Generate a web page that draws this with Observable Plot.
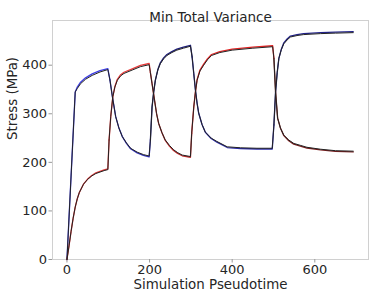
<!DOCTYPE html>
<html><head><meta charset="utf-8">
<script src="https://cdn.jsdelivr.net/npm/d3@7"></script>
<script src="https://cdn.jsdelivr.net/npm/@observablehq/plot@0.6"></script>
<style>body{margin:0;background:#fff;} svg{font-family:"DejaVu Sans",sans-serif;}</style>
</head><body><div id="chart"></div><script>
// Curve A (starts high) – measured (black) and fitted (colored)
const xA = [0,20,25,33,45,61,80,99, 104,110,118,126,134,144,154,170,185,199, 202,206,210,214,220,226,234,242,254,266,282,299, 303,307,311,315,319,327,335,349,363,388,420,460,497, 501,505,509,513,519,525,533,541,557,573,614,650,693];
const yA = [0,345,352,362,371,379,386,391, 370,335,294,270,253,240,229,221,216,213, 246,314,345,369,390,403,413,420,426,431,435,439, 417,383,349,322,301,278,262,250,243,232,230,229,229, 277,345,385,414,432,444,452,458,461,463,465,466,467];
const yAfit = [0,345,355,365,374,382,389,393, 370,335,294,270,253,239,228,219.5,214.5,211.5, 246,314,345,369,391,405,415,422,428,433,437,441, 417,383,349,322,301,278,262,249,241.5,230.5,228.5,227.5,227.5, 277,345,385,414,433,446,454,460,463,465,467,468,469];
// Curve B (starts low)
const xB = [0,5,10,15,20,25,30,40,50,60,70,80,90,99, 102,106,111,116,122,130,138,158,178,199, 202,206,212,217,222,230,238,248,258,268,279,299, 302,307,311,315,322,331,340,350,370,400,450,498, 501,505,510,517,525,537,549,565,581,614,650,693];
const yB = [0,28,58,85,108,125,138,155,165,172,177,180,183,185, 246,294,335,355,369,378,383,390,397,401, 385,362,328,300,280,261,246,235,226,220,215,212, 260,314,345,369,388,400,411,420,426,431,435,438, 414,345,291,270,256,246,239,235,231,227,224,223];
const yBfit = [0,28,58,85,108,125,138,155,165.5,173,178.5,181.5,184.5,186.5, 246,294,335,356,371,380.5,385.5,392.5,399.5,403.5, 385,362,328,300,280,261,245,233.5,224.5,218.5,213.5,210.5, 260,314,345,370,390,402,413,422,428,433,437,440, 414,345,291,270,255,244.5,237.5,233.5,229.5,225.5,222.5,221.5];

const stepTimes = [100, 200, 300, 500];
const colorsA = ["#3f3fe6","#3434c0","#1e1e7a","#2b2ba8","#22228a"];
const colorsB = ["#e23a3a","#e83a3a","#c02a2a","#e02424","#7a1e1e"];
const xTicks = [0, 200, 400, 600];
const yTicks = [0, 100, 200, 300, 400];

function segOf(x){ return stepTimes.filter(b => x > b).length; }
function segRows(xs, ys, colors, name){
  const rows = [];
  for (let i = 0; i < xs.length; i++) {
    const s = segOf(xs[i]);
    rows.push({x: xs[i], y: ys[i], seg: name + s, color: colors[s]});
    if (i + 1 < xs.length && segOf(xs[i+1]) !== s) {
      rows.push({x: xs[i+1], y: ys[i+1], seg: name + s, color: colors[s]});
    }
  }
  return rows;
}
const fitRows = segRows(xA, yAfit, colorsA, "A").concat(segRows(xB, yBfit, colorsB, "B"));
const blackA = xA.map((x, i) => ({x, y: yA[i]}));
const blackB = xB.map((x, i) => ({x, y: yB[i]}));

const chart = Plot.plot({
  width: 374, height: 299,
  marginLeft: 52, marginRight: 6, marginTop: 20, marginBottom: 40,
  style: {fontFamily: "DejaVu Sans, sans-serif", fontSize: "13px", color: "#262626", background: "#fff", overflow: "visible"},
  x: {domain: [-35, 730]},
  y: {domain: [0, 492]},
  marks: [
    Plot.frame({stroke: "#d0d0d0"}),
    Plot.axisX({ticks: xTicks, tickSize: 3.5, tickPadding: 1.5, stroke: "#999", label: null, fontSize: 13}),
    Plot.axisY({ticks: yTicks, tickSize: 3.5, tickPadding: 2, stroke: "#999", label: null, fontSize: 13}),
    Plot.line(fitRows, {x: "x", y: "y", z: "seg", stroke: "color", strokeWidth: 1.3}),
    Plot.line(blackA, {x: "x", y: "y", stroke: "#222", strokeWidth: 1}),
    Plot.line(blackB, {x: "x", y: "y", stroke: "#222", strokeWidth: 1}),
    Plot.text(["Min Total Variance"], {frameAnchor: "top", dy: -8, fontSize: 13.5, fill: "#262626"}),
    Plot.text(["Simulation Pseudotime"], {frameAnchor: "bottom", dy: 29, fontSize: 13.4, fill: "#262626"}),
    Plot.text(["Stress (MPa)"], {frameAnchor: "left", dx: -40, rotate: -90, fontSize: 13.4, fill: "#262626"})
  ]
});
document.getElementById("chart").appendChild(chart);
</script></body></html>
